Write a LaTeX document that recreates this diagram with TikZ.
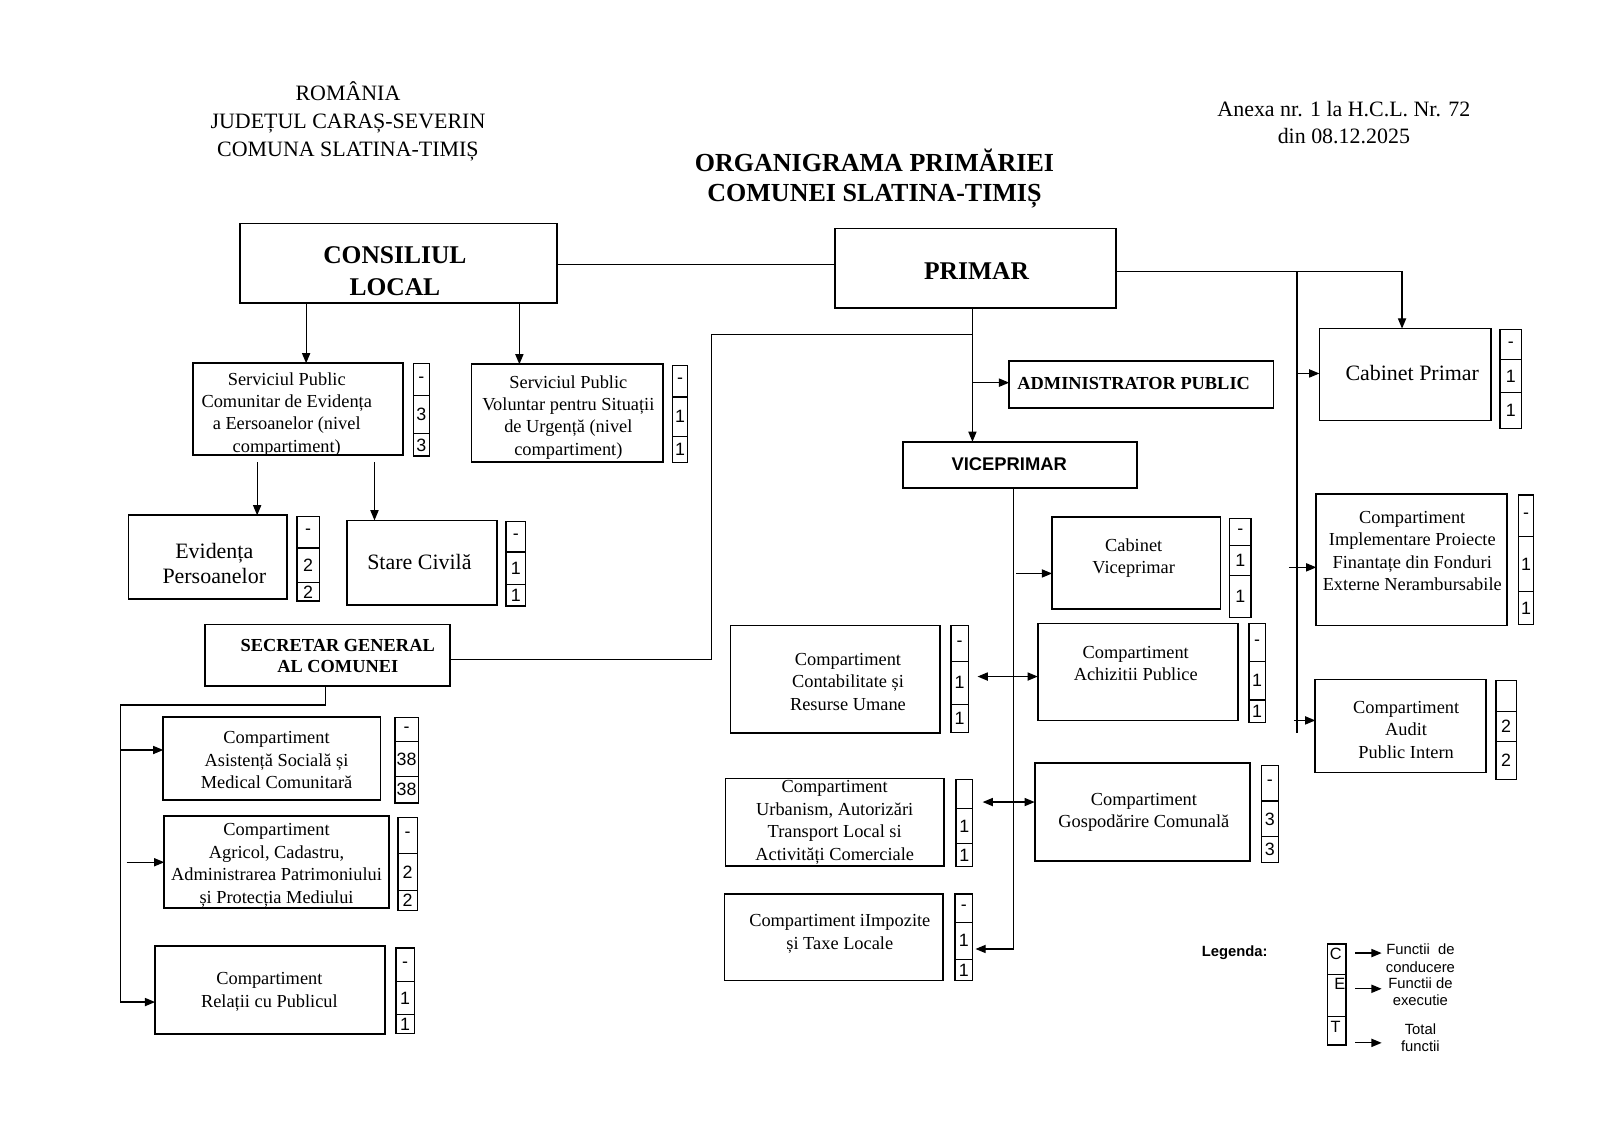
\documentclass[tikz,border=0pt]{standalone}
\usepackage{fontspec}
\setmainfont{Liberation Serif}
\newfontfamily\arialfont{Liberation Sans}
\usetikzlibrary{arrows.meta}
\tikzset{
  orgframe/.style={draw, line width=1.7pt, inner sep=0pt, outer sep=0pt, rectangle},
  orgtext/.style={align=center, inner sep=0pt, font=\fontsize{18}{22}\selectfont},
  cntframe/.style={draw, line width=1.4pt, inner sep=0pt, outer sep=0pt, rectangle},
  cntline/.style={line width=1.1pt},
  cnttext/.style={inner sep=0pt, font=\arialfont\fontsize{17.5}{17.5}\selectfont},
  conn/.style={line width=1.2pt},
  arr/.style={conn, -{Triangle[length=10pt,width=8pt]}},
  darr/.style={conn, {Triangle[length=10pt,width=8pt]}-{Triangle[length=10pt,width=8pt]}},
  hdr/.style={align=center, inner sep=0pt, font=\fontsize{21.5}{27}\selectfont},
  ttl/.style={align=center, inner sep=0pt, font=\bfseries\fontsize{25.5}{30}\selectfont},
  legtext/.style={align=center, inner sep=0pt, font=\arialfont\fontsize{14.5}{17}\selectfont}
}
% #1 text style, #2 name, #3 x1, #4 y1, #5 x2, #6 y2, #7 text x, #8 text y, #9 text
\newcommand\orgbox[9][]{%
  \node[orgframe, minimum width={#5-#3}, minimum height={#6-#4}] (#2) at ({(#3+#5)/2},{(#4+#6)/2}) {};
  \node[orgtext,#1] (#2-t) at (#7,#8) {#9};}
% #1 name, #2 x1, #3 y1, #4 x2, #5 y2, #6 div1, #7 div2, #8 top value, #9 other value
\newcommand\countcol[9]{%
  \node[cntframe, minimum width={#4-#2}, minimum height={#5-#3}] (#1) at ({(#2+#4)/2},{(#3+#5)/2}) {};
  \draw[cntline] (#1.west |- 0,#6) -- (#1.east |- 0,#6);
  \draw[cntline] (#1.west |- 0,#7) -- (#1.east |- 0,#7);
  \node[cnttext] (#1-c) at ({(#2+#4)/2},{(#3+#6)/2}) {#8};
  \node[cnttext] (#1-e) at ({(#2+#4)/2},{(#6+#7)/2}) {#9};
  \node[cnttext] (#1-t) at ({(#2+#4)/2},{(#7+#5)/2}) {#9};}
\begin{document}
\begin{tikzpicture}[x=1pt,y=-1pt]
\fill[white] (0,0) rectangle (1568,1108);
\useasboundingbox (0,0) rectangle (1568,1108);

% headers
\node[hdr] (hl) at (341,119) {ROMÂNIA\\JUDEȚUL CARAȘ-SEVERIN\\COMUNA SLATINA-TIMIȘ};
\node[hdr] (hr) at (1317,120) {Anexa nr. 1 la H.C.L. Nr. 72\\din 08.12.2025};
\node[ttl] (title) at (857,175) {ORGANIGRAMA PRIMĂRIEI\\COMUNEI SLATINA-TIMIȘ};

% top level
\orgbox[font=\bfseries\fontsize{25}{31}\selectfont]{CL}{235}{219}{546}{297}{387}{266}{CONSILIUL\\LOCAL}
\orgbox[font=\bfseries\fontsize{25}{31}\selectfont]{PR}{818}{224}{1094}{302}{957}{266}{PRIMAR}

% left branch of Consiliul
\orgbox{SPC}{189}{356}{395}{446}{281}{406}{Serviciul Public\\Comunitar de Evidența\\a Eersoanelor (nivel\\compartiment)}
\countcol{SPCc}{405}{356}{421}{447}{388}{425}{-}{3}
\orgbox{SPV}{462}{357}{650}{453}{557}{409}{Serviciul Public\\Voluntar pentru Situații\\de Urgență (nivel\\compartiment)}
\countcol{SPVc}{659}{358}{674}{453}{389}{428}{-}{1}
\orgbox[font=\fontsize{21.5}{25}\selectfont]{EV}{126}{505}{281}{587}{210}{552}{Evidența\\Persoanelor}
\countcol{EVc}{291}{506}{313}{589}{537}{571}{-}{2}
\orgbox[font=\fontsize{21.5}{25}\selectfont]{SC}{340}{510}{487}{593}{411}{551}{Stare Civilă}
\countcol{SCc}{496}{511}{515}{594}{541}{573}{-}{1}

% secretar
\orgbox[font=\bfseries\fontsize{18}{21}\selectfont]{SG}{201}{612}{441}{672}{331}{643}{SECRETAR GENERAL\\AL COMUNEI}
\orgbox{AS}{160}{703}{373}{784}{271}{745}{Compartiment\\Asistență Socială și\\Medical Comunitară}
\countcol{ASc}{387}{703}{410}{787}{727}{761}{-}{38}
\orgbox{AG}{161}{800}{381}{890}{271}{848}{Compartiment\\Agricol, Cadastru,\\Administrarea Patrimoniului\\și Protecția Mediului}
\countcol{AGc}{390}{801}{409}{892}{836}{873}{-}{2}
\orgbox{REL}{152}{927}{377}{1013}{264}{972}{Compartiment\\Relații cu Publicul}
\countcol{RELc}{388}{929}{406}{1013}{962}{994}{-}{1}

% admin / viceprimar
\orgbox[font=\bfseries\fontsize{18}{22}\selectfont]{AP}{989}{354}{1248}{400}{1111}{376}{ADMINISTRATOR PUBLIC}
\orgbox[font=\arialfont\bfseries\fontsize{18}{22}\selectfont]{VP}{885}{433}{1114}{478}{989}{455}{VICEPRIMAR}
\orgbox{CV}{1031}{507}{1196}{597}{1111}{547}{Cabinet\\Viceprimar}
\countcol{CVc}{1205}{508}{1226}{605}{535}{564}{-}{1}
\orgbox{CON}{716}{613}{921}{718}{831}{668}{Compartiment\\Contabilitate și\\Resurse Umane}
\countcol{CONc}{932}{613}{949}{718}{648}{690}{-}{1}
\orgbox{ACH}{1017}{611}{1213}{706}{1113}{650}{Compartiment\\Achizitii Publice}
\countcol{ACHc}{1224}{611}{1240}{708}{648}{686}{-}{1}
\orgbox{URB}{711}{763}{925}{849}{818}{806}{Compartiment\\Urbanism, Autorizări\\Transport Local si\\Activități Comerciale}
\countcol{URBc}{937}{764}{953}{849}{792}{827}{}{1}
\orgbox{GOS}{1014}{748}{1225}{844}{1121}{796}{Compartiment\\Gospodărire Comunală}
\countcol{GOSc}{1236}{750}{1253}{845}{785}{820}{-}{3}
\orgbox{IMP}{710}{876}{924}{961}{823}{915}{Compartiment iImpozite\\și Taxe Locale}
\countcol{IMPc}{936}{876}{953}{961}{904}{940}{-}{1}

% right column
\orgbox[font=\fontsize{21.5}{25}\selectfont]{CP}{1293}{322}{1461}{412}{1384}{366}{Cabinet Primar}
\countcol{CPc}{1470}{323}{1491}{420}{352}{385}{-}{1}
\orgbox{IMPL}{1290}{484}{1477}{613}{1384}{540}{Compartiment\\Implementare Proiecte\\Finantațe din Fonduri\\Externe Nerambursabile}
\countcol{IMPLc}{1488}{485}{1503}{612}{526}{580}{-}{1}
\orgbox{AUD}{1289}{666}{1456}{757}{1378}{715}{Compartiment\\Audit\\Public Intern}
\countcol{AUDc}{1466}{667}{1486}{764}{697}{727}{}{2}

% connectors: top
\coordinate (clp) at (0,259);
\draw[conn] (CL.east |- clp) -- (PR.west |- clp);
\coordinate (c1) at (300,0);
\coordinate (c2) at (509,0);
\draw[arr] (CL.south -| c1) -- (SPC.north -| c1);
\draw[arr] (CL.south -| c2) -- (SPV.north -| c2);
\coordinate (c3) at (252,0);
\coordinate (c4) at (367,0);
\draw[arr, shorten <=7pt] (SPC.south -| c3) -- (EV.north -| c3);
\draw[arr, shorten <=7pt] (SPC.south -| c4) -- (SC.north -| c4);

% primar down
\coordinate (pj) at (953,328);
\coordinate (sgx) at (697,328);
\coordinate (sgy) at (697,646);
\draw[arr] (PR.south -| pj) -- (VP.north -| pj);
\draw[conn] (pj) -- (sgx) -- (sgy) -- (SG.east |- sgy);
\coordinate (apj) at (953,375);
\draw[arr] (apj) -- (AP.west |- apj);

% viceprimar down
\coordinate (vj) at (993,930);
\draw[arr, shorten >=3pt] (VP.south -| vj) -- (vj) -- (IMPc.east |- vj);
\coordinate (cvj) at (996,562);
\draw[arr] (cvj) -- (CV.west |- cvj);
\coordinate (caj) at (0,663);
\draw[darr, shorten <=9pt] (CONc.east |- caj) -- (ACH.west |- caj);
\coordinate (ugj) at (0,786);
\draw[darr, shorten <=10pt] (URBc.east |- ugj) -- (GOS.west |- ugj);

% right column connectors
\coordinate (rj) at (1271,266);
\coordinate (cpj) at (1374,266);
\coordinate (rb) at (1271,718);
\draw[arr] (PR.east |- rj) -- (cpj) -- (CP.north -| cpj);
\draw[conn] (rj) -- (rb);
\coordinate (r1) at (1271,366);
\coordinate (r2) at (1263,556);
\coordinate (r3) at (1268,706);
\draw[arr] (r1) -- (CP.west |- r1);
\draw[arr] (r2) -- (IMPL.west |- r2);
\draw[arr] (r3) -- (AUD.west |- r3);

% secretar connectors
\coordinate (s1) at (319,691);
\coordinate (s2) at (118,691);
\coordinate (s3) at (118,982);
\draw[arr] (SG.south -| s1) -- (s1) -- (s2) -- (s3) -- (REL.west |- s3);
\coordinate (s4) at (118,735);
\draw[arr] (s4) -- (AS.west |- s4);
\coordinate (s5) at (124,845);
\draw[arr] (s5) -- (AG.west |- s5);

% legend
\node[inner sep=0pt, font=\arialfont\bfseries\fontsize{14.5}{15}\selectfont] (leg) at (1210,934) {Legenda:};
\node[cntframe, minimum width=18, minimum height=99] (LB) at (1310,974.5) {};
\coordinate (ld1) at (0,955);
\coordinate (ld2) at (0,996);
\draw[cntline] (LB.west |- ld1) -- (LB.east |- ld1);
\draw[cntline] (LB.west |- ld2) -- (LB.east |- ld2);
\node[cnttext, font=\arialfont\fontsize{16}{16}\selectfont] (LC) at (1309,935) {C};
\node[cnttext, font=\arialfont\fontsize{16}{16}\selectfont] (LE) at (1313,964) {E};
\node[cnttext, font=\arialfont\fontsize{16}{16}\selectfont] (LT) at (1309,1006) {T};
\node[legtext] (L1) at (1392,939) {Functii\ \ de\\conducere};
\node[legtext] (L2) at (1392,972) {Functii de\\executie};
\node[legtext] (L3) at (1392,1017) {Total\\functii};
\coordinate (la1) at (1354,934);
\coordinate (la2) at (1354,969);
\coordinate (la3) at (1354,1022);
\draw[arr, shorten <=9pt] (LB.east |- la1) -- (la1);
\draw[arr, shorten <=9pt] (LB.east |- la2) -- (la2);
\draw[arr, shorten <=9pt] (LB.east |- la3) -- (la3);
\end{tikzpicture}
\end{document}
